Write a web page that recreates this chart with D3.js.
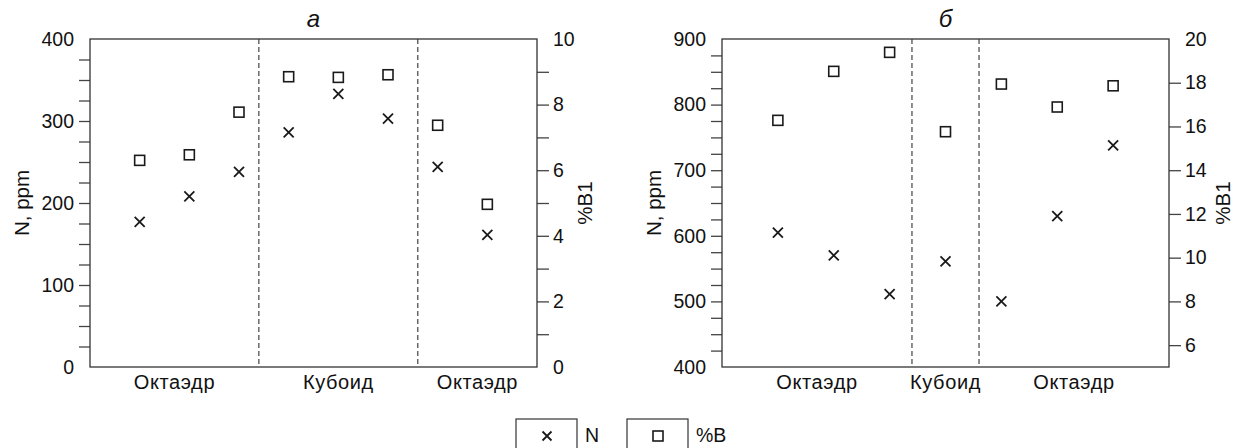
<!DOCTYPE html>
<html><head><meta charset="utf-8">
<script src="https://cdn.jsdelivr.net/npm/d3@7"></script>
<style>
body{margin:0;background:#fff;}
svg text{font-family:"Liberation Sans",Arial,sans-serif;fill:#111;}
</style></head>
<body><svg id="c" width="1236" height="448"></svg>
<script>
// ---- data ----
const titleA = "а";
const titleB = "б";
const categoriesA = ["Октаэдр", "Кубоид", "Октаэдр"];
const dividersA = [3.4, 6.6];
const nA = [177, 208, 238, 286, 333, 303, 244, 161];
const bA = [6.30, 6.47, 7.77, 8.85, 8.83, 8.91, 7.37, 4.96];
const categoriesB = ["Октаэдр", "Кубоид", "Октаэдр"];
const dividersB = [3.4, 4.6];
const nB = [605, 570, 511, 561, 500, 630, 738];
const bB = [16.28, 18.52, 19.39, 15.76, 17.94, 16.89, 17.86];
const leftTicksA = d3.range(0, 401, 25);
const leftLabelsA = [0, 100, 200, 300, 400];
const rightTicksA = d3.range(0, 11, 1);
const rightLabelsA = [0, 2, 4, 6, 8, 10];
const leftTicksB = d3.range(400, 901, 25);
const leftLabelsB = [400, 500, 600, 700, 800, 900];
const rightTicksB = d3.range(6, 21, 2);
const rightLabelsB = [6, 8, 10, 12, 14, 16, 18, 20];
const yLabel = "N, ppm";
const y2Label = "%B1";
const legendItems = ["N", "%B"];

const svg = d3.select("#c");
const TOP = 39, BOT = 367;
const ink = "#1a1a1a", axisCol = "#444";

function xMark(g, x, y, s) {
  g.append("path").attr("d", `M${x - s},${y - s}L${x + s},${y + s}M${x - s},${y + s}L${x + s},${y - s}`)
    .attr("stroke", ink).attr("stroke-width", 1.8).attr("fill", "none");
}
function sqMark(g, x, y, s) {
  g.append("rect").attr("x", x - s).attr("y", y - s).attr("width", 2 * s).attr("height", 2 * s)
    .attr("fill", "#fff").attr("stroke", ink).attr("stroke-width", 1.6);
}

function panel(opt) {
  const g = svg.append("g");
  const x = d3.scaleLinear().domain([0, opt.n.length + 1]).range([opt.x0, opt.x1]);
  const yL = d3.scaleLinear().domain(opt.yDom).range([BOT, TOP]);
  const yR = d3.scaleLinear().domain(opt.y2Dom).range([BOT, TOP]);

  const axL = d3.axisLeft(yL).tickValues(opt.lTicks).tickSize(11).tickPadding(5)
    .tickFormat(d => opt.lLabels.includes(d) ? d : "");
  const gl = g.append("g").attr("transform", `translate(${opt.x0},0)`).call(axL);
  const axR = d3.axisRight(yR).tickValues(opt.rTicks).tickSize(12).tickPadding(4)
    .tickFormat(d => opt.rLabels.includes(d) ? d : "");
  const gr = g.append("g").attr("transform", `translate(${opt.x1},0)`).call(axR);
  [gl, gr].forEach(a => {
    a.select(".domain").remove();
    a.selectAll(".tick line").attr("stroke", axisCol).attr("stroke-width", 1.3);
    a.selectAll(".tick text").attr("font-size", 19.5).attr("fill", ink)
      .attr("font-family", '"Liberation Sans",Arial,sans-serif');
  });
  gl.selectAll(".tick line").attr("display", d => (d === yL.domain()[0] || d === yL.domain()[1]) ? "none" : null);
  gr.selectAll(".tick line").attr("display", d => (d === yR.domain()[0] || d === yR.domain()[1]) ? "none" : null);

  g.append("rect").attr("x", opt.x0).attr("y", TOP).attr("width", opt.x1 - opt.x0).attr("height", BOT - TOP)
    .attr("fill", "none").attr("stroke", "#333").attr("stroke-width", 1.3);

  g.selectAll(".div").data(opt.dividers).join("line")
    .attr("x1", d => x(d)).attr("x2", d => x(d)).attr("y1", TOP).attr("y2", BOT)
    .attr("stroke", "#333").attr("stroke-width", 1.1).attr("stroke-dasharray", "5,3");

  const edges = [0, ...opt.dividers, opt.n.length + 1];
  opt.cats.forEach((c, i) => {
    g.append("text").attr("x", x((edges[i] + edges[i + 1]) / 2)).attr("y", 389)
      .attr("text-anchor", "middle").attr("font-size", 20).attr("letter-spacing", 0.6).text(c);
  });

  opt.b.forEach((v, i) => sqMark(g, x(i + 1), yR(v), 5));
  opt.n.forEach((v, i) => xMark(g, x(i + 1), yL(v), 5));

  g.append("text").attr("x", (opt.x0 + opt.x1) / 2).attr("y", 27).attr("text-anchor", "middle")
    .attr("font-family", '"Liberation Serif","DejaVu Serif",serif').attr("font-style", "italic")
    .attr("font-size", 24).text(opt.title);
  g.append("text").attr("transform", `translate(${opt.yLabX},${(TOP + BOT) / 2}) rotate(-90)`)
    .attr("text-anchor", "middle").attr("font-size", 20.5).text(yLabel);
  g.append("text").attr("transform", `translate(${opt.y2LabX},${(TOP + BOT) / 2}) rotate(-90)`)
    .attr("text-anchor", "middle").attr("font-size", 20.5).text(y2Label);
}

panel({x0: 90, x1: 537, n: nA, b: bA, yDom: [0, 400], y2Dom: [0, 10], lTicks: leftTicksA, lLabels: leftLabelsA,
  rTicks: rightTicksA, rLabels: rightLabelsA, dividers: dividersA, cats: categoriesA, title: titleA,
  yLabX: 29, y2LabX: 592});
panel({x0: 722, x1: 1169, n: nB, b: bB, yDom: [400, 900], y2Dom: [5, 20], lTicks: leftTicksB, lLabels: leftLabelsB,
  rTicks: rightTicksB, rLabels: rightLabelsB, dividers: dividersB, cats: categoriesB, title: titleB,
  yLabX: 661, y2LabX: 1230});

const lg = svg.append("g");
const legX = [516, 627];
legendItems.forEach((t, i) => {
  lg.append("rect").attr("x", legX[i]).attr("y", 419).attr("width", 61).attr("height", 40)
    .attr("fill", "none").attr("stroke", "#333").attr("stroke-width", 1.2);
  if (i === 0) xMark(lg, legX[i] + 31, 436, 4.5); else sqMark(lg, legX[i] + 31, 436, 5);
  lg.append("text").attr("x", legX[i] + 69).attr("y", 442).attr("font-size", 19.5).text(t);
});
</script></body></html>
